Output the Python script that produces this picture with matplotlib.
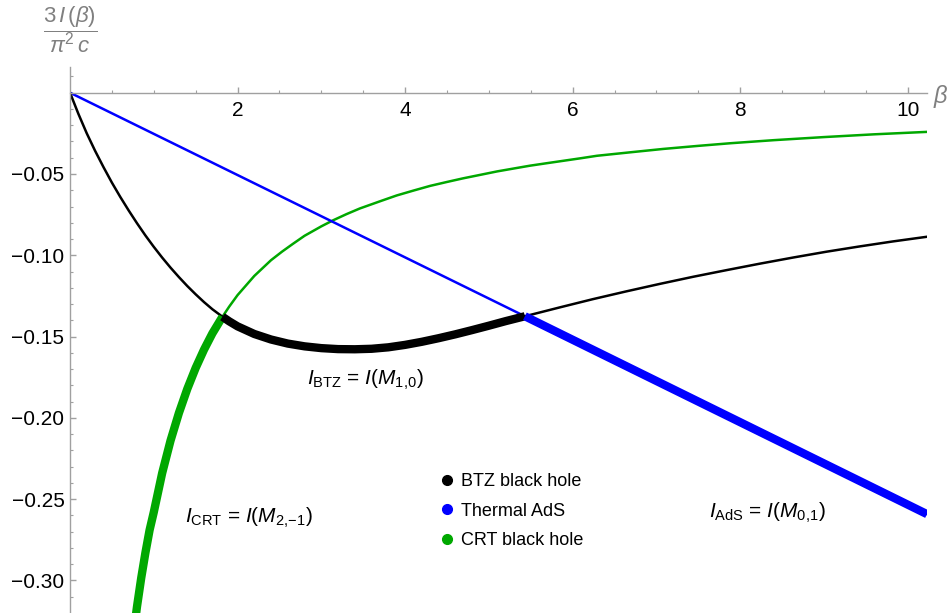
import matplotlib
matplotlib.use("Agg")
import matplotlib.pyplot as plt
from matplotlib.lines import Line2D
import numpy as np

plt.rcParams['font.family'] = ['Liberation Sans', 'DejaVu Sans']
plt.rcParams['mathtext.fontset'] = 'custom'
plt.rcParams['mathtext.rm'] = 'Liberation Sans'
plt.rcParams['mathtext.it'] = 'Liberation Sans:italic'
plt.rcParams['axes.unicode_minus'] = True

# valeurs
beta_btz = [0, 0.1, 0.2, 0.3, 0.4, 0.5, 0.6, 0.7, 0.8, 0.9, 1.0, 1.1, 1.2, 1.3, 1.4, 1.5,
            1.6, 1.7, 1.82, 1.9, 2.0, 2.2, 2.4, 2.6, 2.8, 3.0, 3.2, 3.4, 3.6, 3.8, 4.0,
            4.2, 4.4, 4.6, 4.8, 5.0, 5.2, 5.43, 5.85, 6.24, 6.64, 7.04, 7.44, 7.84,
            8.23, 8.63, 9.03, 9.42, 9.82, 10.23]
I_btz = [0, -0.0130, -0.0250, -0.0358, -0.0458, -0.0553, -0.0641, -0.0724, -0.0803,
         -0.0878, -0.0948, -0.1014, -0.1076, -0.1134, -0.1189, -0.1240, -0.1288, -0.1332,
         -0.1378, -0.1406, -0.1437, -0.1484, -0.1518, -0.1543, -0.1560, -0.1571, -0.1577,
         -0.1578, -0.1575, -0.1566, -0.1551, -0.1532, -0.1510, -0.1486, -0.1460, -0.1433,
         -0.1405, -0.1375, -0.1320, -0.1270, -0.1222, -0.1176, -0.1132, -0.1091, -0.1052,
         -0.1014, -0.0978, -0.0946, -0.0915, -0.0886]

beta_ads = [0, 5.43, 10.23]
I_ads = [0, -0.1375, -0.2592]

beta_crt = [0.77, 0.80, 0.85, 0.90, 0.95, 1.0, 1.1, 1.2, 1.3, 1.4, 1.5, 1.6, 1.7, 1.82,
            1.9, 2.0, 2.2, 2.4, 2.53, 2.66, 2.8, 3.0, 3.14, 3.3, 3.46, 3.7, 3.9, 4.1, 4.3,
            4.5, 4.69, 4.9, 5.1, 5.3, 5.49, 5.7, 5.9, 6.1, 6.29, 6.7, 7.08, 7.5, 7.88,
            8.4, 9.0, 9.6, 10.23]
I_crt = [-0.328, -0.316, -0.2985, -0.2830, -0.2690, -0.2580, -0.2340, -0.2140, -0.1970,
         -0.1822, -0.1693, -0.1580, -0.1480, -0.1378, -0.1316, -0.1245, -0.1127, -0.1030,
         -0.0978, -0.0930, -0.0880, -0.0822, -0.0785, -0.0747, -0.0712, -0.0668, -0.0632,
         -0.0602, -0.0573, -0.0549, -0.0527, -0.0505, -0.0484, -0.0466, -0.0449, -0.0433,
         -0.0418, -0.0403, -0.0388, -0.0366, -0.0346, -0.0327, -0.0311, -0.0292, -0.0273,
         -0.0256, -0.0241]

# transitions de phase
beta_hp1 = 1.82
beta_hp2 = 5.43

noms = ['BTZ black hole', 'Thermal AdS', 'CRT black hole']
couleurs = ['#000000', '#0000ff', '#00a800']

xticks = [2, 4, 6, 8, 10]
yticks = [-0.05, -0.10, -0.15, -0.20, -0.25, -0.30]

fig = plt.figure(figsize=(9.51, 6.13), dpi=100)
ax = fig.add_axes([70/951, 0, 857/951, 546/613])

b_btz, v_btz = np.array(beta_btz), np.array(I_btz)
b_ads, v_ads = np.array(beta_ads), np.array(I_ads)
b_crt, v_crt = np.array(beta_crt), np.array(I_crt)

fin = 1.8
gros = 6.0
# traits fins
ax.plot(b_crt, v_crt, color=couleurs[2], lw=fin)
ax.plot(b_ads, v_ads, color=couleurs[1], lw=fin)
ax.plot(b_btz, v_btz, color=couleurs[0], lw=fin)
# phase dominante en gras
m = b_crt <= beta_hp1
ax.plot(b_crt[m], v_crt[m], color=couleurs[2], lw=gros, solid_capstyle='butt')
m = (b_btz >= beta_hp1) & (b_btz <= beta_hp2)
ax.plot(b_btz[m], v_btz[m], color=couleurs[0], lw=gros, solid_capstyle='butt')
m = b_ads >= beta_hp2
ax.plot(b_ads[m], v_ads[m], color=couleurs[1], lw=gros, solid_capstyle='butt')

ax.set_xlim(0, 10.23)
ax.set_ylim(-0.32, 0.0158)

gris = '#a0a0a0'
ax.spines['top'].set_visible(False)
ax.spines['right'].set_visible(False)
ax.spines['bottom'].set_position(('data', 0))
ax.spines['left'].set_position(('data', 0))
for s in ('bottom', 'left'):
    ax.spines[s].set_color(gris)
    ax.spines[s].set_linewidth(1.0)

ax.set_xticks(xticks)
ax.set_xticklabels([str(t) for t in xticks])
ax.set_xticks(np.arange(0.5, 10.23, 0.5), minor=True)
ax.set_yticks(yticks)
ax.set_yticklabels(['\u2212%.2f' % abs(t) for t in yticks])
ax.set_yticks(np.arange(-0.31, 0.015, 0.01), minor=True)
ax.tick_params(axis='both', which='both', direction='in', color=gris, labelsize=15)
ax.tick_params(axis='both', which='major', length=4, width=1)
ax.tick_params(axis='both', which='minor', length=2.5, width=0.8)
ax.tick_params(axis='x', which='major', pad=6)
ax.tick_params(axis='y', which='major', pad=4)

# titres des axes
fig.text(70/951, 1 - 30/613, r'$\dfrac{3\,I\,(\beta)}{\pi^2\,c}$', color='#808080',
         fontsize=16, ha='center', va='center')
fig.text(941/951, 1 - 96/613, r'$\beta$', color='#808080', fontsize=17,
         ha='center', va='center')

# étiquettes des courbes
ax.text(3.53, -0.1767, r'$I_{\mathrm{BTZ}}$ = $I(M_{1,\!0})$', fontsize=15, ha='center', va='center')
ax.text(2.13, -0.2616, r'$I_{\mathrm{CRT}}$ = $I(M_{2,\!{-}1})$', fontsize=15, ha='center', va='center')
ax.text(8.33, -0.2585, r'$I_{\mathrm{AdS}}$ = $I(M_{0,\!1})$', fontsize=15, ha='center', va='center')

handles = [Line2D([], [], ls='', marker='o', markersize=7, color=c) for c in couleurs]
ax.legend(handles, noms, loc='upper left', bbox_to_anchor=(438/951, 1 - 473/613),
          bbox_transform=fig.transFigure, frameon=False, fontsize=13,
          handlelength=1.0, handletextpad=0.3, labelspacing=0.7,
          borderpad=0, borderaxespad=0)

fig.savefig('out.png', dpi=100)
